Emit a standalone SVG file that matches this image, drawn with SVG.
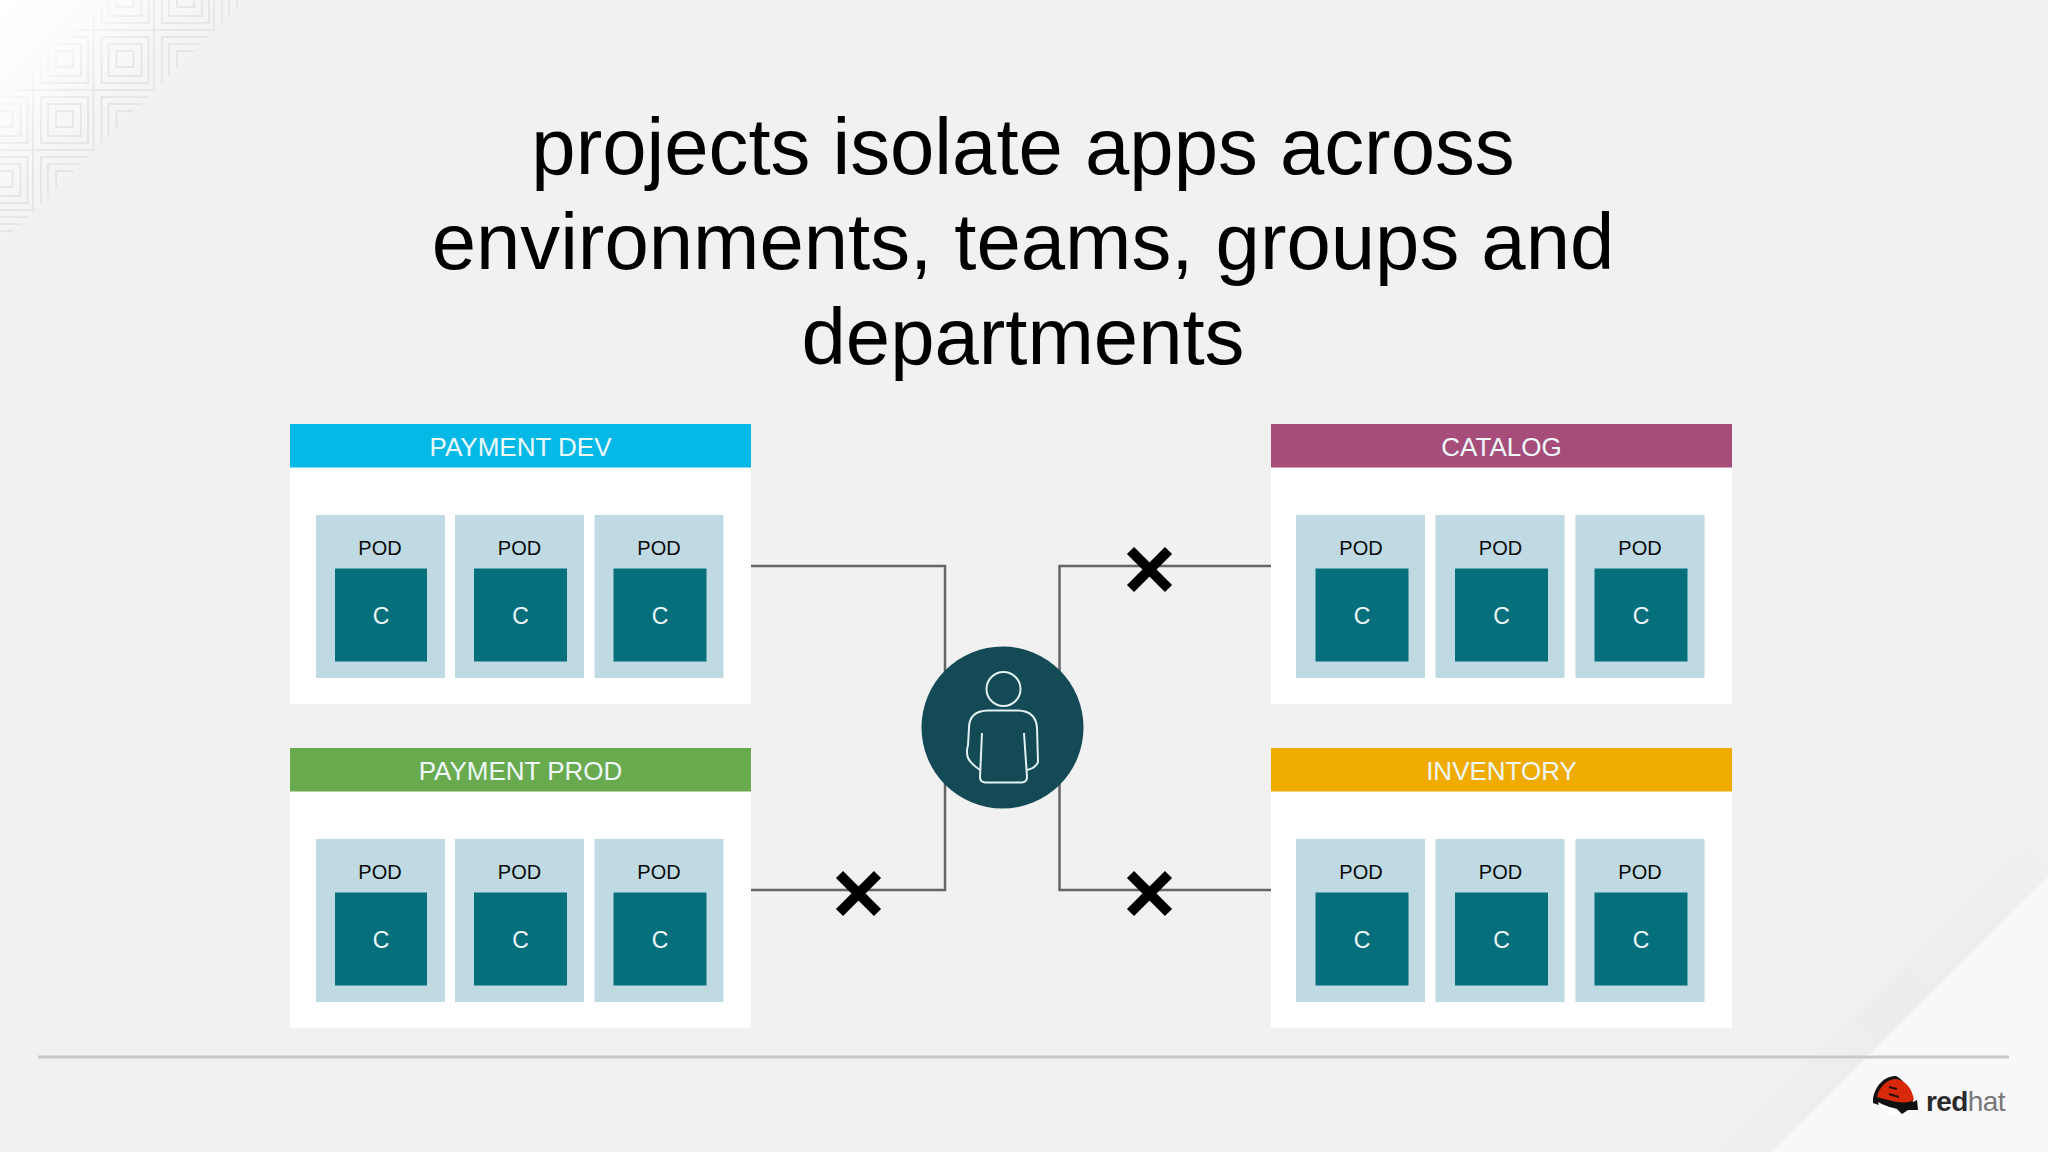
<svg xmlns="http://www.w3.org/2000/svg" xmlns:xlink="http://www.w3.org/1999/xlink" width="2048" height="1152" viewBox="0 0 2048 1152">
<defs>
<style>
text{font-family:"Liberation Sans",Arial,sans-serif}
.title{font-size:79.700px;fill:#000;text-anchor:middle}
.hdr{font-size:26px;fill:#eef8fb;text-anchor:middle}
.pl{font-size:20px;fill:#0a0a0a;text-anchor:middle}
.cl{font-size:23px;fill:#eef7f8;text-anchor:middle}
.card{fill:#fff}
.pod{fill:#bfdae3}
.ctr{fill:#066f7c}
.wire{fill:none;stroke:#666;stroke-width:2.500}
.cross{fill:none;stroke:#000;stroke-width:10}
.pat{fill:none;stroke:#e6e6e6;stroke-width:2}
.person{fill:none;stroke:#e4f1f3;stroke-width:2}
</style>
<linearGradient id="tl" gradientUnits="userSpaceOnUse" x1="0" y1="0" x2="122" y2="122"><stop offset="0" stop-color="#fff"/><stop offset=".5" stop-color="#fbfbfb"/><stop offset="1" stop-color="#f3f3f3"/></linearGradient>
<linearGradient id="fadeG" gradientUnits="userSpaceOnUse" x1="45" y1="45" x2="100" y2="100"><stop offset="0" stop-color="#000"/><stop offset="1" stop-color="#fff"/></linearGradient>
<mask id="fade" maskUnits="userSpaceOnUse" x="0" y="0" width="260" height="260"><rect width="260" height="260" fill="url(#fadeG)"/></mask>
<clipPath id="tri"><polygon points="0,0 245,0 0,245"/></clipPath>
<g id="cell"><rect x="8" y="7" width="47" height="46"/><rect x="15" y="14" width="33" height="32"/><rect x="23" y="21" width="17" height="16"/></g>
<linearGradient id="band" gradientUnits="userSpaceOnUse" x1="2048" y1="820" x2="1716" y2="1152"><stop offset="0" stop-color="#f0f0f1"/><stop offset=".5" stop-color="#edecee"/><stop offset="1" stop-color="#efeff0"/></linearGradient>
</defs>
<rect width="2048" height="1152" fill="#f1f1f2"/>
<g id="bg-top-left">
<polygon points="0,0 245,0 0,245" fill="url(#tl)"/>
<g clip-path="url(#tri)"><g mask="url(#fade)" class="pat">
<path d="M33 0V260M93.500 0V260M154 0V260M214 0V260M0 30H260M0 90H260M0 150H260M0 210H260"/>
<use xlink:href="#cell" href="#cell" x="154" y="-30"/>
<use xlink:href="#cell" href="#cell" x="93.500" y="30"/>
<use xlink:href="#cell" href="#cell" x="33" y="90"/>
<use xlink:href="#cell" href="#cell" x="-27.500" y="150"/>
<use xlink:href="#cell" href="#cell" x="93.500" y="-30"/>
<use xlink:href="#cell" href="#cell" x="33" y="30"/>
<use xlink:href="#cell" href="#cell" x="-27.500" y="90"/>
<use xlink:href="#cell" href="#cell" x="154" y="30"/>
<use xlink:href="#cell" href="#cell" x="93.500" y="90"/>
<use xlink:href="#cell" href="#cell" x="33" y="150"/>
<use xlink:href="#cell" href="#cell" x="214" y="-30"/>
<use xlink:href="#cell" href="#cell" x="-27.500" y="210"/>
</g></g>
</g>
<g id="bg-bottom-right">
<polygon points="2048,820 2048,877 1772,1152 1716,1152" fill="url(#band)"/>
<polygon points="2048,877 2048,1152 1772,1152" fill="#f8f7f9"/>
</g>
<rect id="rule" x="38" y="1055.500" width="1971" height="3" fill="#c9c9ca"/>
<g id="title">
<text class="title" x="1023" y="174">projects isolate apps across</text>
<text class="title" x="1023" y="269">environments, teams, groups and</text>
<text class="title" x="1023" y="364">departments</text>
</g>
<g id="connectors">
<path class="wire" d="M751 566H945V890H751"/>
<path class="wire" d="M1271 566H1059.500V890H1271"/>
<path class="cross" id="x-catalog" d="M1130.500 550.500L1168.500 588.500M1168.500 550.500L1130.500 588.500"/>
<path class="cross" id="x-prod" d="M839.500 874.500L877.500 912.500M877.500 874.500L839.500 912.500"/>
<path class="cross" id="x-inventory" d="M1130.500 874.500L1168.500 912.500M1168.500 874.500L1130.500 912.500"/>
</g>
<g id="node-payment-dev">
<rect class="card" x="290" y="424" width="461" height="280"/>
<rect x="290" y="424" width="461" height="43.500" fill="#05b9e6"/>
<text class="hdr" x="520.500" y="456">PAYMENT DEV</text>
<rect class="pod" x="316" y="515" width="129" height="163"/><rect class="ctr" x="335" y="568.500" width="92" height="93"/><text class="pl" x="380" y="555">POD</text><text class="cl" x="381" y="624">C</text>
<rect class="pod" x="455" y="515" width="129" height="163"/><rect class="ctr" x="474" y="568.500" width="93" height="93"/><text class="pl" x="519.500" y="555">POD</text><text class="cl" x="520.500" y="624">C</text>
<rect class="pod" x="594.500" y="515" width="129" height="163"/><rect class="ctr" x="613.500" y="568.500" width="93" height="93"/><text class="pl" x="659" y="555">POD</text><text class="cl" x="660" y="624">C</text>
</g>
<g id="node-payment-prod">
<rect class="card" x="290" y="748" width="461" height="280"/>
<rect x="290" y="748" width="461" height="43.500" fill="#6aaa4f"/>
<text class="hdr" x="520.500" y="780">PAYMENT PROD</text>
<rect class="pod" x="316" y="839" width="129" height="163"/><rect class="ctr" x="335" y="892.500" width="92" height="93"/><text class="pl" x="380" y="879">POD</text><text class="cl" x="381" y="948">C</text>
<rect class="pod" x="455" y="839" width="129" height="163"/><rect class="ctr" x="474" y="892.500" width="93" height="93"/><text class="pl" x="519.500" y="879">POD</text><text class="cl" x="520.500" y="948">C</text>
<rect class="pod" x="594.500" y="839" width="129" height="163"/><rect class="ctr" x="613.500" y="892.500" width="93" height="93"/><text class="pl" x="659" y="879">POD</text><text class="cl" x="660" y="948">C</text>
</g>
<g id="node-catalog">
<rect class="card" x="1271" y="424" width="461" height="280"/>
<rect x="1271" y="424" width="461" height="43.500" fill="#a64d79"/>
<text class="hdr" x="1501.500" y="456">CATALOG</text>
<rect class="pod" x="1296" y="515" width="129" height="163"/><rect class="ctr" x="1315.500" y="568.500" width="93" height="93"/><text class="pl" x="1361" y="555">POD</text><text class="cl" x="1362" y="624">C</text>
<rect class="pod" x="1435.500" y="515" width="129" height="163"/><rect class="ctr" x="1455" y="568.500" width="93" height="93"/><text class="pl" x="1500.500" y="555">POD</text><text class="cl" x="1501.500" y="624">C</text>
<rect class="pod" x="1575.500" y="515" width="129" height="163"/><rect class="ctr" x="1594.500" y="568.500" width="93" height="93"/><text class="pl" x="1640" y="555">POD</text><text class="cl" x="1641" y="624">C</text>
</g>
<g id="node-inventory">
<rect class="card" x="1271" y="748" width="461" height="280"/>
<rect x="1271" y="748" width="461" height="43.500" fill="#f0ab00"/>
<text class="hdr" x="1501.500" y="780">INVENTORY</text>
<rect class="pod" x="1296" y="839" width="129" height="163"/><rect class="ctr" x="1315.500" y="892.500" width="93" height="93"/><text class="pl" x="1361" y="879">POD</text><text class="cl" x="1362" y="948">C</text>
<rect class="pod" x="1435.500" y="839" width="129" height="163"/><rect class="ctr" x="1455" y="892.500" width="93" height="93"/><text class="pl" x="1500.500" y="879">POD</text><text class="cl" x="1501.500" y="948">C</text>
<rect class="pod" x="1575.500" y="839" width="129" height="163"/><rect class="ctr" x="1594.500" y="892.500" width="93" height="93"/><text class="pl" x="1640" y="879">POD</text><text class="cl" x="1641" y="948">C</text>
</g>
<g id="node-user">
<circle cx="1002.500" cy="727.500" r="81" fill="#134a56"/>
<g class="person">
<circle cx="1003.500" cy="689" r="17"/>
<path d="M982 733L980 777Q980 782 985 782.500H1022Q1027 782 1027 777L1024 733"/>
<path d="M980 770Q971 764 968 758Q966 752 968 745L969 728Q969 711 988 710.500H1018Q1036 711 1037 728L1038 762Q1036 768 1027 770"/>
</g>
</g>
<g id="logo">
<path d="M1896 1076C1884 1076 1875 1086 1873 1099L1873 1103C1880 1106 1888 1106 1897 1109L1902 1114L1908 1110L1918 1110L1917 1100L1913 1102C1910 1090 1904 1080 1896 1076Z" fill="#111"/>
<path d="M1877 1097C1879 1087 1887 1079 1896 1079C1905 1080 1912 1088 1914 1100C1907 1104 1897 1103 1877 1097Z" fill="#d9290b"/>
<path d="M1878 1102C1886 1106 1892 1108 1896 1110L1900 1116C1888 1116 1880 1110 1878 1102Z" fill="#fff"/>
<path d="M1889 1087L1897 1089M1889 1094L1899 1097" stroke="#2a0f08" stroke-width="2" fill="none"/>
<text x="1926" y="1111" font-size="28" letter-spacing="-.6" fill="#222"><tspan font-weight="bold" fill="#2a2a2a">red</tspan><tspan fill="#777">hat</tspan></text>
</g>
</svg>
